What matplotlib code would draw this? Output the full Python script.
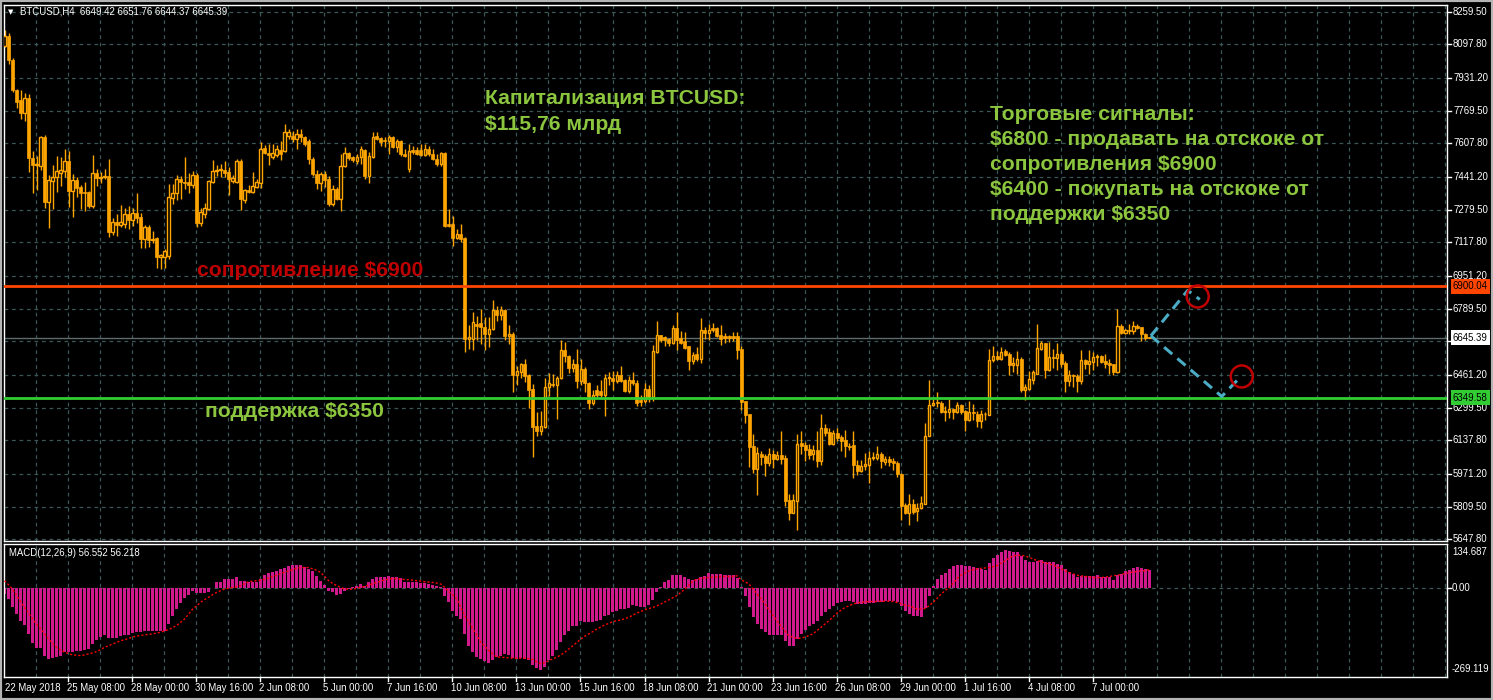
import numpy as np
import matplotlib
matplotlib.use("Agg")
import matplotlib.pyplot as plt
import matplotlib.transforms as mtransforms

# ---- data (BTCUSD H4) ----
opens = [
    8090, 8140, 8020, 7870, 7820, 7760, 7830, 7535, 7500, 7495,
    7640, 7320, 7420, 7440, 7460, 7470, 7520, 7370, 7425, 7390,
    7365, 7365, 7300, 7460, 7435, 7440, 7445, 7170, 7220, 7205,
    7210, 7260, 7230, 7265, 7245, 7135, 7195, 7130, 7140, 7045,
    7045, 7050, 7335, 7360, 7430, 7415, 7415, 7400, 7450, 7215,
    7260, 7285, 7415, 7470, 7475, 7475, 7465, 7420, 7415, 7520,
    7325, 7375, 7366, 7390, 7410, 7585, 7560, 7540, 7548, 7575,
    7570, 7645, 7646, 7630, 7655, 7638, 7620, 7531, 7457, 7410,
    7457, 7432, 7308, 7380, 7333, 7498, 7560, 7539, 7520, 7539,
    7575, 7448, 7539, 7646, 7634, 7625, 7618, 7638, 7589, 7618,
    7556, 7481, 7575, 7575, 7574, 7552, 7580, 7556, 7531, 7506,
    7562, 7210, 7210, 7138, 7160, 7140, 6641, 6641, 6715, 6720,
    6700, 6665, 6690, 6781, 6756, 6781, 6652, 6666, 6460, 6476,
    6517, 6460, 6390, 6207, 6184, 6204, 6402, 6415, 6410, 6446,
    6587, 6554, 6496, 6517, 6432, 6493, 6423, 6323, 6385, 6380,
    6361, 6448, 6448, 6432, 6460, 6438, 6380, 6435, 6423, 6336,
    6333, 6394, 6352, 6575, 6657, 6649, 6638, 6621, 6694, 6644,
    6629, 6603, 6529, 6563, 6542, 6682, 6671, 6694, 6694, 6657,
    6654, 6654, 6654, 6654, 6588, 6331, 6267, 6110, 5998, 6072,
    6059, 6026, 6069, 6047, 6064, 6052, 5841, 5778, 5838, 6125,
    6113, 6093, 6068, 6088, 6036, 6201, 6177, 6118, 6174, 6154,
    6138, 6110, 6113, 6014, 5986, 6009, 6017, 6052, 6050, 6072,
    6030, 6047, 6034, 6027, 5973, 5816, 5778, 5824, 5788, 5805,
    5824, 6159, 6311, 6323, 6322, 6280, 6278, 6294, 6278, 6311,
    6283, 6237, 6278, 6270, 6233, 6266, 6265, 6533, 6553, 6542,
    6578, 6567, 6509, 6509, 6542, 6385, 6393, 6438, 6468, 6591,
    6619, 6484, 6550, 6545, 6563, 6520, 6431, 6459, 6455, 6431,
    6537, 6517, 6525, 6550, 6553, 6529, 6520, 6514, 6476, 6702,
    6669, 6682, 6677, 6702, 6698, 6665, 6649.42,
]
highs = [
    8170, 8155, 8030, 7875, 7870, 7855, 7850, 7570, 7545, 7645,
    7650, 7450, 7500, 7545, 7540, 7580, 7570, 7455, 7440, 7400,
    7415, 7370, 7550, 7480, 7465, 7480, 7530, 7240, 7260, 7305,
    7290, 7300, 7290, 7360, 7265, 7205, 7205, 7175, 7145, 7060,
    7085, 7405, 7405, 7450, 7445, 7540, 7460, 7470, 7460, 7290,
    7315, 7425, 7525, 7500, 7505, 7520, 7490, 7450, 7530, 7530,
    7380, 7400, 7465, 7430, 7615, 7600, 7605, 7605, 7600, 7620,
    7705, 7680, 7670, 7680, 7680, 7646, 7630, 7540, 7475, 7465,
    7470, 7445, 7400, 7390, 7556, 7592, 7565, 7547, 7556, 7597,
    7580, 7564, 7663, 7663, 7640, 7638, 7650, 7646, 7630, 7622,
    7580, 7605, 7597, 7589, 7605, 7605, 7597, 7580, 7556, 7564,
    7564, 7285, 7246, 7185, 7209, 7145, 6707, 6772, 6755, 6786,
    6748, 6748, 6834, 6805, 6801, 6790, 6707, 6674, 6508, 6521,
    6542, 6468, 6415, 6278, 6283, 6448, 6473, 6468, 6455, 6636,
    6624, 6558, 6542, 6591, 6542, 6501, 6427, 6385, 6410, 6435,
    6468, 6476, 6481, 6481, 6504, 6443, 6455, 6476, 6435, 6361,
    6422, 6410, 6608, 6727, 6660, 6652, 6644, 6707, 6773, 6677,
    6674, 6603, 6575, 6600, 6743, 6699, 6715, 6718, 6699, 6707,
    6669, 6661, 6674, 6674, 6603, 6331, 6267, 6171, 6105, 6085,
    6072, 6102, 6088, 6085, 6182, 6064, 5874, 5871, 6168, 6182,
    6130, 6121, 6117, 6182, 6267, 6220, 6201, 6187, 6201, 6163,
    6187, 6125, 6182, 6042, 6039, 6075, 6085, 6080, 6108, 6080,
    6059, 6059, 6052, 6034, 5978, 5830, 5874, 5849, 5830, 5861,
    6225, 6435, 6341, 6377, 6332, 6310, 6344, 6299, 6328, 6319,
    6290, 6331, 6316, 6281, 6286, 6278, 6591, 6603, 6580, 6600,
    6591, 6575, 6550, 6578, 6550, 6415, 6479, 6484, 6715, 6628,
    6619, 6624, 6591, 6620, 6575, 6530, 6484, 6468, 6465, 6587,
    6542, 6583, 6575, 6563, 6562, 6567, 6542, 6517, 6786, 6712,
    6690, 6712, 6727, 6715, 6699, 6669, 6651.76,
]
lows = [
    8085, 8000, 7860, 7785, 7730, 7720, 7465, 7360, 7375, 7475,
    7290, 7190, 7285, 7365, 7395, 7440, 7295, 7245, 7340, 7285,
    7275, 7290, 7290, 7395, 7410, 7430, 7145, 7155, 7150, 7195,
    7190, 7185, 7200, 7215, 7090, 7090, 7095, 7115, 6990, 6985,
    6990, 7035, 7310, 7325, 7330, 7380, 7360, 7385, 7195, 7200,
    7240, 7280, 7410, 7445, 7440, 7440, 7350, 7410, 7410, 7280,
    7315, 7360, 7360, 7385, 7385, 7555, 7500, 7530, 7540, 7525,
    7565, 7630, 7613, 7580, 7613, 7597, 7506, 7448, 7383, 7374,
    7391, 7300, 7300, 7325, 7275, 7490, 7523, 7515, 7505, 7506,
    7432, 7410, 7535, 7625, 7597, 7589, 7556, 7585, 7564, 7547,
    7539, 7465, 7556, 7552, 7547, 7547, 7547, 7523, 7498, 7498,
    7195, 7193, 7102, 7135, 7119, 6575, 6591, 6583, 6632, 6616,
    6583, 6599, 6682, 6730, 6732, 6633, 6616, 6377, 6410, 6448,
    6427, 6300, 6056, 6160, 6163, 6201, 6356, 6402, 6245, 6443,
    6525, 6471, 6476, 6399, 6413, 6377, 6295, 6311, 6352, 6352,
    6257, 6410, 6389, 6422, 6427, 6377, 6372, 6410, 6306, 6306,
    6323, 6328, 6333, 6572, 6624, 6605, 6603, 6616, 6587, 6613,
    6591, 6484, 6517, 6530, 6521, 6641, 6633, 6674, 6649, 6608,
    6620, 6624, 6629, 6542, 6286, 6224, 6006, 5975, 5866, 6014,
    5960, 6009, 6001, 6039, 6022, 5811, 5742, 5778, 5693, 6069,
    6034, 6044, 6042, 6006, 6014, 6158, 6113, 6115, 6133, 6085,
    6055, 6088, 5952, 5965, 5981, 5993, 5927, 6039, 6039, 6001,
    6017, 6011, 5993, 5957, 5745, 5775, 5717, 5775, 5739, 5800,
    5824, 6158, 6306, 6303, 6273, 6234, 6250, 6245, 6273, 6270,
    6185, 6232, 6240, 6204, 6201, 6237, 6262, 6525, 6534, 6537,
    6553, 6460, 6476, 6468, 6377, 6336, 6385, 6415, 6468, 6583,
    6448, 6481, 6497, 6484, 6501, 6377, 6405, 6402, 6377, 6415,
    6493, 6468, 6488, 6504, 6521, 6497, 6468, 6460, 6471, 6662,
    6666, 6666, 6666, 6690, 6629, 6636, 6644.37,
]
closes = [
    8140, 8020, 7870, 7815, 7760, 7830, 7535, 7500, 7505, 7640,
    7320, 7425, 7440, 7470, 7475, 7520, 7370, 7425, 7385, 7360,
    7360, 7300, 7460, 7435, 7440, 7445, 7170, 7220, 7205, 7220,
    7260, 7230, 7265, 7240, 7135, 7195, 7130, 7135, 7045, 7055,
    7075, 7340, 7360, 7430, 7415, 7410, 7400, 7450, 7215, 7270,
    7290, 7420, 7470, 7475, 7475, 7460, 7430, 7435, 7520, 7330,
    7375, 7368, 7395, 7415, 7580, 7560, 7548, 7560, 7580, 7555,
    7663, 7663, 7630, 7655, 7638, 7605, 7531, 7457, 7410, 7455,
    7424, 7308, 7383, 7330, 7498, 7560, 7537, 7523, 7539, 7580,
    7448, 7547, 7641, 7630, 7613, 7618, 7638, 7592, 7618, 7556,
    7545, 7572, 7564, 7556, 7552, 7580, 7556, 7531, 7506, 7560,
    7201, 7201, 7138, 7160, 7135, 6641, 6650, 6723, 6705, 6698,
    6665, 6690, 6781, 6756, 6781, 6652, 6666, 6460, 6479, 6514,
    6455, 6385, 6204, 6184, 6207, 6404, 6420, 6410, 6448, 6587,
    6554, 6496, 6517, 6432, 6493, 6422, 6323, 6361, 6361, 6362,
    6448, 6448, 6432, 6460, 6432, 6380, 6435, 6422, 6323, 6328,
    6394, 6352, 6578, 6657, 6636, 6633, 6621, 6694, 6636, 6620,
    6595, 6529, 6562, 6542, 6682, 6671, 6685, 6682, 6652, 6638,
    6644, 6644, 6644, 6583, 6328, 6262, 6105, 5995, 6077, 6055,
    6026, 6069, 6047, 6064, 6047, 5836, 5778, 5841, 6121, 6108,
    6088, 6067, 6088, 6034, 6201, 6176, 6118, 6174, 6151, 6134,
    6110, 6105, 6014, 5986, 6009, 6019, 6052, 6055, 6072, 6034,
    6047, 6030, 6027, 5973, 5813, 5778, 5824, 5783, 5805, 5828,
    6159, 6314, 6323, 6322, 6278, 6283, 6294, 6278, 6311, 6278,
    6237, 6278, 6273, 6233, 6266, 6270, 6537, 6553, 6542, 6575,
    6558, 6509, 6520, 6542, 6385, 6402, 6443, 6476, 6596, 6619,
    6484, 6550, 6547, 6563, 6517, 6431, 6459, 6455, 6431, 6537,
    6514, 6529, 6550, 6550, 6525, 6514, 6512, 6476, 6702, 6669,
    6682, 6677, 6702, 6693, 6662, 6646, 6645.39,
]
macd_main = [
    -17, -32, -56, -78, -98, -111, -138, -166, -182, -182,
    -204, -214, -212, -209, -204, -194, -194, -194, -191, -189,
    -186, -184, -169, -156, -148, -143, -150, -152, -150, -146,
    -143, -141, -135, -131, -131, -130, -129, -128, -130, -129,
    -128, -108, -83, -63, -44, -30, -20, -7, -15, -15,
    -15, -10, 2, 18, 20, 28, 28, 28, 35, 21,
    23, 18, 18, 18, 28, 40, 46, 50, 53, 58,
    63, 68, 70, 70, 70, 66, 60, 53, 38, 23,
    10, -7, -10, -20, -17, -7, -2, 3, 8, 13,
    8, 18, 28, 33, 35, 36, 38, 36, 33, 30,
    20, 20, 20, 18, 16, 16, 13, 10, 6, 3,
    -24, -42, -68, -83, -93, -138, -176, -194, -209, -214,
    -222, -226, -216, -209, -206, -199, -202, -212, -214, -212,
    -214, -219, -234, -242, -249, -239, -216, -204, -186, -164,
    -141, -128, -115, -113, -98, -101, -103, -101, -98, -95,
    -85, -81, -73, -68, -63, -63, -59, -51, -55, -58,
    -58, -51, -34, -12, 3, 18, 26, 40, 40, 40,
    33, 28, 26, 28, 33, 38, 46, 45, 43, 43,
    40, 40, 40, 30, 3, -22, -58, -88, -108, -123,
    -133, -141, -143, -143, -143, -159, -174, -176, -154, -138,
    -125, -115, -108, -98, -83, -71, -63, -53, -44, -40,
    -37, -37, -42, -47, -48, -48, -45, -44, -42, -40,
    -39, -38, -38, -40, -55, -68, -78, -83, -85, -86,
    -61, -24, 8, 28, 40, 48, 58, 69, 71, 71,
    69, 67, 64, 61, 58, 57, 77, 91, 101, 111,
    116, 114, 111, 109, 99, 87, 81, 79, 84, 87,
    81, 81, 79, 74, 71, 58, 51, 43, 33, 38,
    38, 38, 38, 40, 36, 33, 33, 26, 40, 43,
    52, 57, 61, 64, 62, 59, 56.552,
]
macd_signal = [
    23, 11, -2, -22, -40, -58, -75, -93, -108, -123,
    -138, -154, -166, -179, -187, -194, -198, -202, -203, -204,
    -202, -199, -196, -192, -186, -179, -174, -169, -164, -159,
    -156, -152, -148, -145, -143, -141, -140, -138, -136, -133,
    -129, -125, -119, -113, -103, -93, -78, -63, -53, -42,
    -34, -27, -19, -12, -7, -2, 0, 3, 5, 8,
    15, 20, 22, 23, 25, 28, 32, 36, 40, 45,
    49, 53, 57, 61, 63, 64, 63, 59, 55, 48,
    36, 23, 15, 8, 3, -2, -3, -2, 0, 3,
    6, 10, 14, 18, 22, 26, 28, 30, 29, 28,
    27, 26, 25, 23, 22, 20, 19, 18, 16, 13,
    3, -10, -20, -32, -58, -83, -103, -123, -143, -164,
    -176, -189, -199, -209, -209, -210, -211, -212, -212, -212,
    -212, -214, -216, -224, -229, -226, -219, -214, -209, -202,
    -194, -184, -174, -164, -154, -145, -138, -131, -123, -117,
    -111, -106, -101, -98, -96, -92, -88, -81, -75, -70,
    -65, -61, -58, -53, -47, -41, -35, -28, -22, -12,
    -2, 10, 23, 27, 30, 32, 33, 34, 35, 36,
    36, 36, 36, 38, 26, 20, 13, -2, -17, -32,
    -47, -65, -83, -99, -115, -130, -145, -148, -152, -151,
    -148, -143, -138, -128, -118, -108, -98, -86, -75, -66,
    -58, -53, -47, -45, -42, -41, -40, -40, -40, -39,
    -39, -39, -40, -43, -47, -51, -53, -58, -63, -63,
    -61, -53, -42, -30, -17, -7, 3, 16, 30, 40,
    48, 53, 57, 59, 61, 62, 63, 66, 69, 77,
    84, 92, 99, 100, 101, 98, 94, 89, 84, 81,
    77, 74, 71, 65, 59, 54, 48, 44, 40, 38,
    36, 35, 33, 33, 33, 34, 36, 38, 40, 42,
    45, 47, 50, 51, 53, 54, 56.218,
]
price_levels = [8259.50, 8097.80, 7931.20, 7769.50, 7607.80, 7441.20, 7279.50, 7117.80,
                6951.20, 6789.50, 6627.80, 6461.20, 6299.50, 6137.80, 5971.20, 5809.50, 5647.80]
date_labels = ["25 May 08:00", "28 May 00:00", "30 May 16:00", "2 Jun 08:00", "5 Jun 00:00",
               "7 Jun 16:00", "10 Jun 08:00", "13 Jun 00:00", "15 Jun 16:00", "18 Jun 08:00",
               "21 Jun 00:00", "23 Jun 16:00", "26 Jun 08:00", "29 Jun 00:00", "1 Jul 16:00",
               "4 Jul 08:00", "7 Jul 00:00"]
first_label = "22 May 2018"
resistance = 6900.04
support = 6349.58
last_price = 6645.39
macd_top, macd_bottom = 134.687, -269.119

# ---- style ----
ORANGE = "#FFA500"
GRID = "#3A5656"
MACD_COL = "#D01A8C"
TXT_GREEN = "#8CC63F"
TXT_RED = "#C00000"
W, H = 1493, 700
SMALL = dict(family="Liberation Sans", fontsize=6.9, color="white")
BIG = dict(family="Liberation Sans", fontsize=15.2, fontweight="bold")

fig = plt.figure(figsize=(W / 100, H / 100), dpi=100, facecolor="black")


def px_axes(left, top, right, bottom):
    a = fig.add_axes([left / W, 1 - bottom / H, (right - left) / W, (bottom - top) / H])
    a.set_facecolor("black")
    for s in a.spines.values():
        s.set_color("white")
        s.set_linewidth(1)
    a.set_xticks([])
    a.set_yticks([])
    a.set_xlim(-0.125, 360.375)
    return a


def ftext(x, y, s, **kw):
    fig.text(x / W, 1 - y / H, s, va="center", ha="left", **kw)


ax = px_axes(4, 5, 1447, 541)
axm = px_axes(4, 544, 1447, 677)
ax.set_ylim(5639.5, 8292.7)
axm.set_ylim(macd_bottom, macd_top)

# grid
for p in price_levels:
    ax.axhline(p, color=GRID, lw=0.9, ls=(0, (3, 3)), zorder=0)
for k in range(8, 361, 8):
    for a in (ax, axm):
        a.axvline(k - 0.1, color=GRID, lw=0.9, ls=(0, (3, 3)), zorder=0)
axm.axhline(0, color=GRID, lw=0.9, ls=(0, (3, 3)), zorder=0)

# candles
o = np.array(opens, float)
h = np.array(highs, float)
l = np.array(lows, float)
c = np.array(closes, float)
x = np.arange(len(c))
bull = c >= o
bottom = np.minimum(o, c)
height = np.maximum(np.abs(c - o), 4)
ax.vlines(x, l, h, color=ORANGE, lw=1, zorder=2)
ax.bar(x[bull], height[bull], bottom=bottom[bull], width=0.62, facecolor="black",
       edgecolor=ORANGE, linewidth=1, zorder=3)
ax.bar(x[~bull], height[~bull], bottom=bottom[~bull], width=0.75, facecolor=ORANGE,
       edgecolor=ORANGE, linewidth=0.5, zorder=3)

# levels
ax.axhline(last_price, color="#5C6B6B", lw=1, zorder=1)
ax.axhline(resistance, color="#FF4500", lw=2, zorder=4)
ax.axhline(support, color="#32CD32", lw=2, zorder=4)

# right price scale
tr = mtransforms.blended_transform_factory(ax.transAxes, ax.transData)
dx = 1 / 1443
for p in price_levels:
    ax.plot([1, 1 + 4 * dx], [p, p], transform=tr, color="white", lw=1, clip_on=False)
    ax.text(1 + 6 * dx, p, f"{p:.2f}", transform=tr, va="center", ha="left",
            clip_on=False, zorder=5, **SMALL)
for val, fc in ((resistance, "#FF4500"), (last_price, "white"), (support, "#32CD32")):
    ax.text(1 + 6 * dx, val, f"{val:.2f}", transform=tr, va="center", ha="left",
            clip_on=False, zorder=10, family="Liberation Sans", fontsize=6.9, color="black",
            bbox=dict(boxstyle="square,pad=0.25", fc=fc, ec="none"))

# MACD
axm.bar(x, macd_main, width=0.75, color=MACD_COL, zorder=2)
axm.plot(x, macd_signal, color="red", lw=1, ls=(0, (1.5, 1.5)), zorder=3)
trm = mtransforms.blended_transform_factory(axm.transAxes, axm.transData)
axm.text(1 + 5 * dx, macd_top - 8, f"{macd_top:.3f}", transform=trm, va="top", ha="left",
         clip_on=False, **SMALL)
axm.text(1 + 5 * dx, 0, "0.00", transform=trm, va="center", ha="left", clip_on=False, **SMALL)
axm.plot([1, 1 + 4 * dx], [0, 0], transform=trm, color="white", lw=1, clip_on=False)
axm.text(1 + 5 * dx, macd_bottom + 8, f"{macd_bottom:.3f}", transform=trm, va="bottom",
         ha="left", clip_on=False, **SMALL)

# time axis
trx = mtransforms.blended_transform_factory(axm.transData, axm.transAxes)
axm.text(0, -0.083, first_label, transform=trx, va="center", ha="left", clip_on=False, **SMALL)
for i, lab in enumerate(date_labels):
    k = 16 * (i + 1) - 0.1
    axm.plot([k, k], [0, -0.03], transform=trx, color="white", lw=1, clip_on=False)
    axm.text(k - 0.3, -0.083, lab, transform=trx, va="center", ha="left", clip_on=False, **SMALL)

# headers
ftext(8, 12, "\u25bc", family="DejaVu Sans", fontsize=5, color="white")
ftext(20, 12, "BTCUSD,H4  6649.42 6651.76 6644.37 6645.39", **SMALL)
ftext(9, 553, "MACD(12,26,9) 56.552 56.218", **SMALL)

# annotations
ftext(485, 99, "Капитализация BTCUSD:", color=TXT_GREEN, **BIG)
ftext(485, 125, "$115,76 млрд", color=TXT_GREEN, **BIG)
signals = ["Торговые сигналы:", "$6800 - продавать на отскоке от", "сопротивления $6900",
           "$6400 - покупать на отскоке от", "поддержки $6350"]
for i, s in enumerate(signals):
    ftext(990, 115 + 24.8 * i, s, color=TXT_GREEN, **BIG)
ftext(197, 270, "сопротивление $6900", color=TXT_RED, **BIG)
ftext(205, 412, "поддержка $6350", color=TXT_GREEN, **BIG)

# forecast lines and circles
BLUE = "#4BACC6"
ax.plot([286.4, 295.6, 298.6], [6655, 6880, 6835], color=BLUE, lw=2.2,
        ls=(0, (3.5, 2.2)), zorder=6)
ax.plot([286.4, 304.1, 308.4], [6655, 6355, 6444], color=BLUE, lw=2.2,
        ls=(0, (3.5, 2.2)), zorder=6)
ax.scatter([298.1, 309.1], [6850, 6454], s=250, facecolors="none", edgecolors=TXT_RED,
           linewidths=1.8, zorder=7)

# outer frame
fig.patches.append(plt.Rectangle((0, 0), 1, 1, transform=fig.transFigure, fill=False,
                                 ec="#B4B4B4", lw=3))

fig.savefig("out.png", dpi=100, facecolor="black")
